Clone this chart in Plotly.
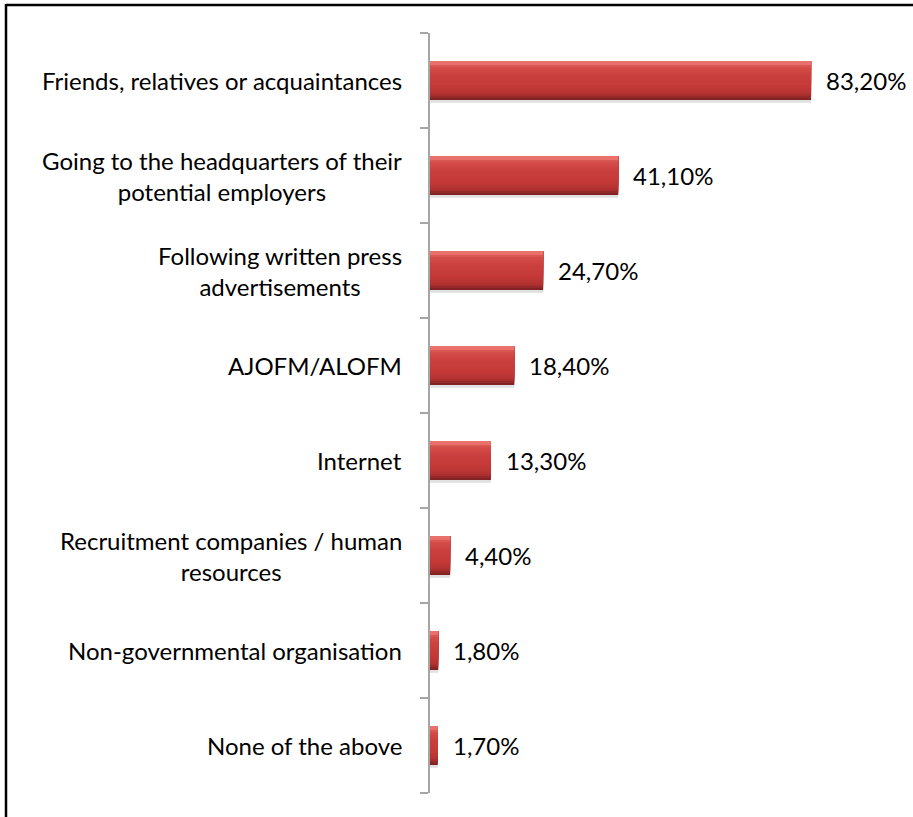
import plotly.graph_objects as go

# Job-search channels and share of respondents using each (%)
categories = [
    "Friends, relatives or acquaintances",
    "Going to the headquarters of their<br>potential employers",
    "Following written press<br>advertisements",
    "AJOFM/ALOFM",
    "Internet",
    "Recruitment companies / human<br>resources",
    "Non-governmental organisation",
    "None of the above",
]
values = [83.2, 41.1, 24.7, 18.4, 13.3, 4.4, 1.8, 1.7]
value_labels = [f"{v:.2f}".replace(".", ",") + "%" for v in values]

W, H = 913, 817
L, R, T, B = 430, 25, 33, 24
pw, ph = W - L - R, H - T - B
FONT = "Lato"
FSIZE = 24

ypos = list(range(len(categories)))
bar_w = 0.41

fig = go.Figure()

# soft drop shadow under each bar
fig.add_trace(go.Bar(
    x=values, y=ypos, orientation="h", width=bar_w, offset=-bar_w / 2 + 0.03,
    marker=dict(color="rgba(0,0,0,0.12)", line=dict(width=0)),
    hoverinfo="skip", showlegend=False,
))

# vertical colour profile of the glossy bar (fraction from top, rgb)
stops = [
    (0.00, (230, 110, 105)),
    (0.06, (238, 120, 115)),
    (0.14, (214, 80, 76)),
    (0.35, (203, 64, 62)),
    (0.65, (196, 58, 56)),
    (0.85, (178, 50, 49)),
    (0.95, (140, 38, 38)),
    (1.00, (120, 32, 32)),
]


def colour_at(f):
    for (f0, c0), (f1, c1) in zip(stops, stops[1:]):
        if f0 <= f <= f1:
            t = (f - f0) / (f1 - f0) if f1 > f0 else 0
            return "rgb(%d,%d,%d)" % tuple(round(a + (b - a) * t) for a, b in zip(c0, c1))
    return "rgb(%d,%d,%d)" % stops[-1][1]


# nested bars, each anchored at the top edge and painted over the previous
# one, so the gradient has no seams between strips
n_strips = 20
for k in reversed(range(n_strips)):
    f = (k + 0.5) / n_strips
    fig.add_trace(go.Bar(
        x=values, y=ypos, orientation="h", width=bar_w * (k + 1) / n_strips,
        offset=-bar_w / 2,
        marker=dict(color=colour_at(f), line=dict(width=0)),
        hoverinfo="skip", showlegend=False,
    ))

annotations = []
for i, (cat, v, lab) in enumerate(zip(categories, values, value_labels)):
    annotations.append(dict(
        x=v, y=i, xref="x", yref="y", text=lab, showarrow=False,
        xanchor="left", yanchor="middle", xshift=13,
        font=dict(family=FONT, size=FSIZE, color="#000000"),
    ))
    annotations.append(dict(
        x=(404 - L) / pw, y=i, xref="paper", yref="y", text=cat,
        showarrow=False, xanchor="right", yanchor="middle", align="center",
        font=dict(family=FONT, size=FSIZE, color="#000000"),
    ))

# frame lines on the top and left edges
px = lambda p: (p - L) / pw
py = lambda p: (H - B - p) / ph
shapes = [
    dict(type="line", xref="paper", yref="paper", x0=px(6), x1=px(W + 10),
         y0=py(5), y1=py(5), line=dict(color="#000000", width=2.5)),
    dict(type="line", xref="paper", yref="paper", x0=px(6), x1=px(6),
         y0=py(4), y1=py(H + 10), line=dict(color="#000000", width=2.5)),
]

fig.update_layout(
    width=W, height=H,
    margin=dict(l=L, r=R, t=T, b=B),
    paper_bgcolor="white", plot_bgcolor="white",
    barmode="overlay",
    showlegend=False,
    annotations=annotations,
    shapes=shapes,
    xaxis=dict(range=[0, 100], visible=False, fixedrange=True),
    yaxis=dict(
        range=[len(categories) - 0.5, -0.5],
        tickvals=[i - 0.5 for i in range(len(categories) + 1)],
        ticktext=[""] * (len(categories) + 1),
        showgrid=False, zeroline=False,
        showline=True, linecolor="#A6A6A6", linewidth=1.5,
        ticks="outside", ticklen=8, tickcolor="#A6A6A6", tickwidth=1.5,
        fixedrange=True,
    ),
)

fig.write_html("out.html")
